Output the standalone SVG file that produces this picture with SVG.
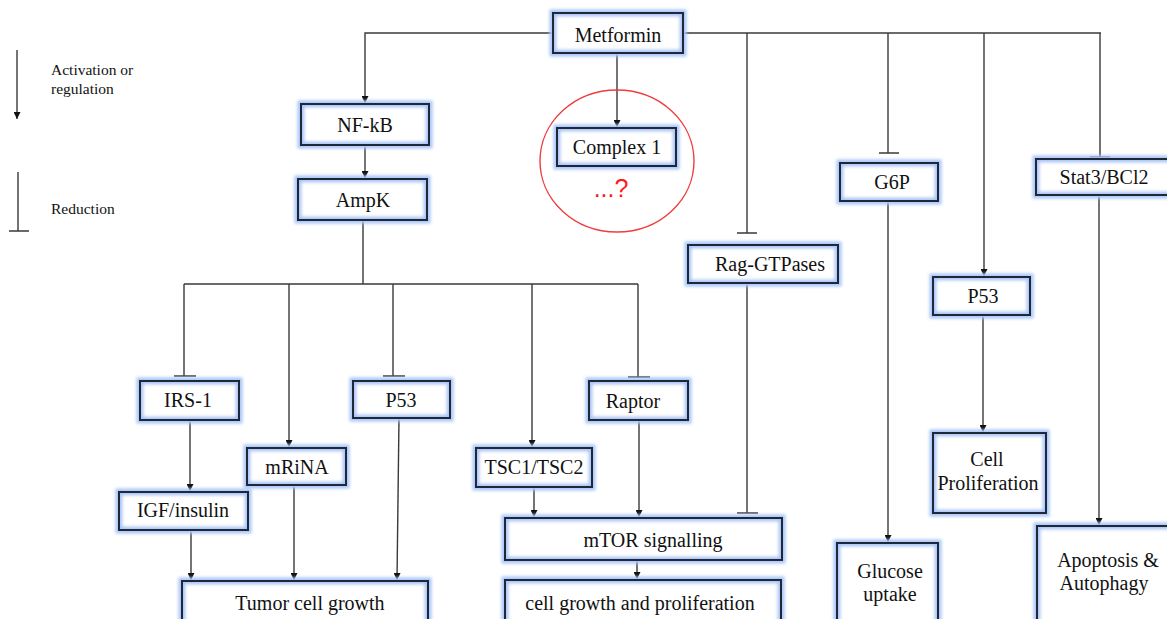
<svg xmlns="http://www.w3.org/2000/svg" width="1167" height="619" viewBox="0 0 1167 619" font-family="Liberation Serif, Times New Roman, serif">
<defs>
<style>
.glow{fill:#fff;stroke:#a8c6f7;stroke-width:7;filter:url(#blur)}
.box{fill:none;stroke:#1f2738;stroke-width:2}
.t{font-size:20px;fill:#111;text-anchor:middle}
.lg{font-size:15.5px;fill:#111}
.c{fill:none;stroke:#3a3a3a;stroke-width:1.4}
.a{marker-end:url(#arr)}
</style>
<filter id="blur" x="-20%" y="-40%" width="140%" height="180%"><feGaussianBlur stdDeviation="1.6"/></filter>
<marker id="arr" viewBox="0 0 10 10" refX="10" refY="5" markerWidth="7" markerHeight="7" markerUnits="userSpaceOnUse" orient="auto"><path d="M0,0 L10,5 L0,10 z" fill="#111"/></marker>
</defs>
<rect width="1167" height="619" fill="#fff"/>

<g id="legend" font-family="Liberation Serif, serif">
<path class="c a" d="M17,50 V119"/>
<text class="lg" x="51" y="75" font-family="Liberation Serif, serif">Activation or</text>
<text class="lg" x="51" y="94" font-family="Liberation Serif, serif">regulation</text>
<path class="c" d="M18,172 V231 M9,231 H29"/>
<text class="lg" x="51" y="214" font-family="Liberation Serif, serif">Reduction</text>
</g>

<g id="connectors">
<path class="c a" d="M553,33 H365 V103"/>
<path class="c" d="M683,33 H1101"/>
<path class="c a" d="M617,53 V127"/>
<path class="c a" d="M365,145 V178"/>
<path class="c" d="M363,220 V284 M184,284 H638"/>
<path class="c" d="M184,284 V376 M174,376 H196"/>
<path class="c a" d="M289,284 V447"/>
<path class="c" d="M393,284 V376 M383,376 H405"/>
<path class="c a" d="M532,284 V447"/>
<path class="c" d="M638,284 V377 M628,377 H650"/>
<path class="c a" d="M190,420 V491"/>
<path class="c a" d="M191,530 V580"/>
<path class="c a" d="M294,485 V580"/>
<path class="c a" d="M399,418 L397,580"/>
<path class="c a" d="M534,487 V517"/>
<path class="c a" d="M639,420 V517"/>
<path class="c a" d="M637,560 V579"/>
<path class="c" d="M747,33 V233 M737,233 H757"/>
<path class="c" d="M747,283 V513 M737,513 H758"/>
<path class="c" d="M888,33 V153 M879,153 H899"/>
<path class="c a" d="M888,201 V542"/>
<path class="c a" d="M984,33 V276"/>
<path class="c a" d="M983,315 V432"/>
<path class="c" d="M1100,33 V157 M1090,157 H1110"/>
<path class="c a" d="M1099,195 V525"/>
</g>

<g id="metformin"><rect class="glow" x="553" y="13" width="130" height="40"/><rect class="box" x="553" y="13" width="130" height="40"/><text class="t" x="618" y="42" font-family="Liberation Serif, serif">Metformin</text></g>

<g id="complex1-circle"><ellipse cx="617" cy="161" rx="77" ry="71" fill="none" stroke="#f03c3c" stroke-width="1.4"/></g>
<g id="complex1"><rect class="glow" x="557" y="128" width="119" height="38"/><rect class="box" x="557" y="128" width="119" height="38"/><text class="t" x="617" y="154" font-family="Liberation Serif, serif">Complex 1</text></g>
<g id="unknown"><text x="611" y="197" font-family="Liberation Sans, Arial, sans-serif" font-size="25" fill="#ff1a1a" text-anchor="middle">...?</text></g>

<g id="nfkb"><rect class="glow" x="301" y="104" width="128" height="41"/><rect class="box" x="301" y="104" width="128" height="41"/><text class="t" x="365" y="132" font-family="Liberation Serif, serif">NF-kB</text></g>
<g id="ampk"><rect class="glow" x="298" y="179" width="129" height="41"/><rect class="box" x="298" y="179" width="129" height="41"/><text class="t" x="363" y="207" font-family="Liberation Serif, serif">AmpK</text></g>

<g id="irs1"><rect class="glow" x="140" y="381" width="99" height="39"/><rect class="box" x="140" y="381" width="99" height="39"/><text class="t" x="188" y="407" font-family="Liberation Serif, serif">IRS-1</text></g>
<g id="p53a"><rect class="glow" x="353" y="381" width="97" height="37"/><rect class="box" x="353" y="381" width="97" height="37"/><text class="t" x="401" y="407" font-family="Liberation Serif, serif">P53</text></g>
<g id="raptor"><rect class="glow" x="589" y="381" width="99" height="39"/><rect class="box" x="589" y="381" width="99" height="39"/><text class="t" x="633" y="408" font-family="Liberation Serif, serif">Raptor</text></g>
<g id="mrina"><rect class="glow" x="247" y="448" width="99" height="37"/><rect class="box" x="247" y="448" width="99" height="37"/><text class="t" x="297" y="474" font-family="Liberation Serif, serif">mRiNA</text></g>
<g id="tsc"><rect class="glow" x="476" y="448" width="116" height="39"/><rect class="box" x="476" y="448" width="116" height="39"/><text class="t" x="534" y="474" font-family="Liberation Serif, serif">TSC1/TSC2</text></g>
<g id="igf"><rect class="glow" x="119" y="492" width="129" height="38"/><rect class="box" x="119" y="492" width="129" height="38"/><text class="t" x="183" y="517" font-family="Liberation Serif, serif">IGF/insulin</text></g>
<g id="tumor"><rect class="glow" x="182" y="581" width="246" height="44"/><rect class="box" x="182" y="581" width="246" height="44"/><text class="t" x="310" y="610" font-family="Liberation Serif, serif">Tumor cell growth</text></g>
<g id="mtor"><rect class="glow" x="505" y="518" width="277" height="42"/><rect class="box" x="505" y="518" width="277" height="42"/><text class="t" x="653" y="547" font-family="Liberation Serif, serif">mTOR signalling</text></g>
<g id="cellgrowth"><rect class="glow" x="505" y="580" width="276" height="45"/><rect class="box" x="505" y="580" width="276" height="45"/><text class="t" x="640" y="610" font-family="Liberation Serif, serif">cell growth and proliferation</text></g>

<g id="rag"><rect class="glow" x="688" y="245" width="150" height="38"/><rect class="box" x="688" y="245" width="150" height="38"/><text class="t" x="770" y="271" font-family="Liberation Serif, serif">Rag-GTPases</text></g>
<g id="g6p"><rect class="glow" x="840" y="163" width="98" height="38"/><rect class="box" x="840" y="163" width="98" height="38"/><text class="t" x="892" y="189" font-family="Liberation Serif, serif">G6P</text></g>
<g id="stat3"><rect class="glow" x="1036" y="159" width="140" height="36"/><rect class="box" x="1036" y="159" width="140" height="36"/><text class="t" x="1104" y="184" font-family="Liberation Serif, serif">Stat3/BCl2</text></g>
<g id="p53b"><rect class="glow" x="933" y="277" width="97" height="38"/><rect class="box" x="933" y="277" width="97" height="38"/><text class="t" x="983" y="303" font-family="Liberation Serif, serif">P53</text></g>
<g id="cellprolif"><rect class="glow" x="933" y="433" width="113" height="80"/><rect class="box" x="933" y="433" width="113" height="80"/><text class="t" x="987" y="466" font-family="Liberation Serif, serif">Cell</text><text class="t" x="988" y="490" font-family="Liberation Serif, serif">Proliferation</text></g>
<g id="glucose"><rect class="glow" x="837" y="543" width="101" height="82"/><rect class="box" x="837" y="543" width="101" height="82"/><text class="t" x="890" y="578" font-family="Liberation Serif, serif">Glucose</text><text class="t" x="890" y="601" font-family="Liberation Serif, serif">uptake</text></g>
<g id="apoptosis"><rect class="glow" x="1037" y="526" width="140" height="100"/><rect class="box" x="1037" y="526" width="140" height="100"/><text class="t" x="1108" y="567" font-family="Liberation Serif, serif">Apoptosis &amp;</text><text class="t" x="1104" y="590" font-family="Liberation Serif, serif">Autophagy</text></g>
</svg>
